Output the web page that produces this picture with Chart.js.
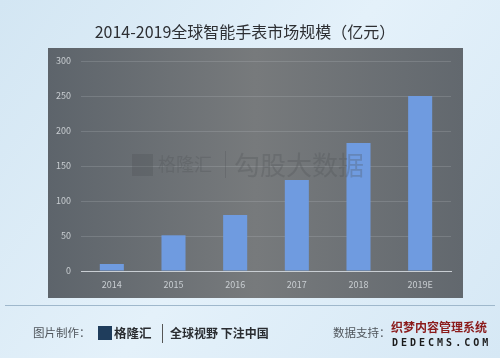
<!DOCTYPE html>
<html>
<head>
<meta charset="utf-8">
<script src="https://cdn.jsdelivr.net/npm/chart.js@4"></script>
<style>
  html, body { margin: 0; padding: 0; background: #dcebf6; }
  #wrap { width: 500px; height: 358px; }
</style>
</head>
<body>
<div id="wrap"><canvas id="chart" width="500" height="358"></canvas></div>
<script>
// 数据
const years  = ["2014", "2015", "2016", "2017", "2018", "2019E"];
const market = [10, 51, 80, 130, 183, 250];
const yTicks = [0, 50, 100, 150, 200, 250, 300];

const FONT = "'Noto Sans CJK SC', 'Noto Sans', sans-serif";

// 背景、标题、深色面板、水印和页脚
const decor = {
  id: "decor",
  beforeDraw(chart) {
    const ctx = chart.ctx;
    ctx.save();
    const bg = ctx.createLinearGradient(0, 0, 500, 358);
    bg.addColorStop(0, "#d3e6f3");
    bg.addColorStop(0.5, "#e4f1fa");
    bg.addColorStop(1, "#d6e8f5");
    ctx.fillStyle = bg;
    ctx.fillRect(0, 0, 500, 358);

    // 标题
    ctx.fillStyle = "#2d2f33";
    ctx.font = "16px " + FONT;
    ctx.textAlign = "center";
    ctx.textBaseline = "middle";
    ctx.fillText("2014-2019全球智能手表市场规模（亿元）", 245, 32);

    // 深色面板
    const panel = ctx.createLinearGradient(48, 0, 463, 0);
    panel.addColorStop(0, "#5d646b");
    panel.addColorStop(0.5, "#777a7c");
    panel.addColorStop(1, "#62686e");
    ctx.fillStyle = panel;
    ctx.fillRect(48, 48, 415, 250);

    // 分隔线
    ctx.strokeStyle = "#9fb8cc";
    ctx.lineWidth = 1;
    ctx.beginPath();
    ctx.moveTo(5, 305.5);
    ctx.lineTo(495, 305.5);
    ctx.stroke();

    // 页脚
    ctx.textAlign = "left";
    ctx.fillStyle = "#50565c";
    ctx.font = "11.5px " + FONT;
    ctx.fillText("图片制作：", 33, 333);
    ctx.fillStyle = "#1f3d5c";
    ctx.fillRect(98, 326, 14, 14);
    ctx.fillStyle = "#2a2d31";
    ctx.font = "bold 12.5px " + FONT;
    ctx.fillText("格隆汇", 114, 333);
    ctx.fillStyle = "#555";
    ctx.fillRect(162, 324, 1, 19);
    ctx.font = "bold 12px " + FONT;
    ctx.fillStyle = "#2a2d31";
    ctx.fillText("全球视野 下注中国", 170, 333);
    ctx.font = "11.5px " + FONT;
    ctx.fillStyle = "#50565c";
    ctx.fillText("数据支持：", 333, 333);
    ctx.font = "bold 12px " + FONT;
    ctx.fillStyle = "#8b1a1a";
    ctx.fillText("织梦内容管理系统", 391, 327);
    ctx.font = "bold 10px 'DejaVu Sans Mono', monospace";
    ctx.letterSpacing = "3px";
    ctx.fillStyle = "#1c1c1c";
    ctx.fillText("DEDECMS.COM", 392, 343);
    ctx.restore();
  },
  afterDatasetsDraw(chart) {
    // 水印
    const ctx = chart.ctx;
    ctx.save();
    ctx.globalAlpha = 0.28;
    ctx.fillStyle = "#4a4e52";
    ctx.fillRect(132, 154, 21, 22);
    ctx.font = "18px " + FONT;
    ctx.textBaseline = "middle";
    ctx.fillText("格隆汇", 158, 164);
    ctx.fillRect(225, 151, 1, 27);
    ctx.font = "26px " + FONT;
    ctx.fillText("勾股大数据", 234, 165);
    ctx.restore();
  }
};

new Chart(document.getElementById("chart"), {
  type: "bar",
  data: {
    labels: years,
    datasets: [{
      data: market,
      backgroundColor: "#6f9be0",
      borderWidth: 0,
      categoryPercentage: 1,
      barPercentage: 0.39
    }]
  },
  options: {
    responsive: false,
    animation: false,
    layout: { padding: { left: 50, right: 49, top: 61, bottom: 63 } },
    plugins: { legend: { display: false }, tooltip: { enabled: false } },
    scales: {
      x: {
        grid: { display: false, drawTicks: false },
        border: { color: "#c9ced3", width: 1 },
        ticks: { color: "#c9ced2", font: { size: 9, family: FONT }, padding: 8 },
        afterFit(s) { s.height = 24; }
      },
      y: {
        min: 0,
        max: 300,
        afterBuildTicks(s) { s.ticks = yTicks.map(v => ({ value: v })); },
        grid: { color: "rgba(200,205,210,0.2)", drawTicks: false },
        border: { display: false },
        ticks: { color: "#c9ced2", font: { size: 9, family: FONT }, padding: 10 },
        afterFit(s) { s.width = 31; }
      }
    }
  },
  plugins: [decor]
});
</script>
</body>
</html>
